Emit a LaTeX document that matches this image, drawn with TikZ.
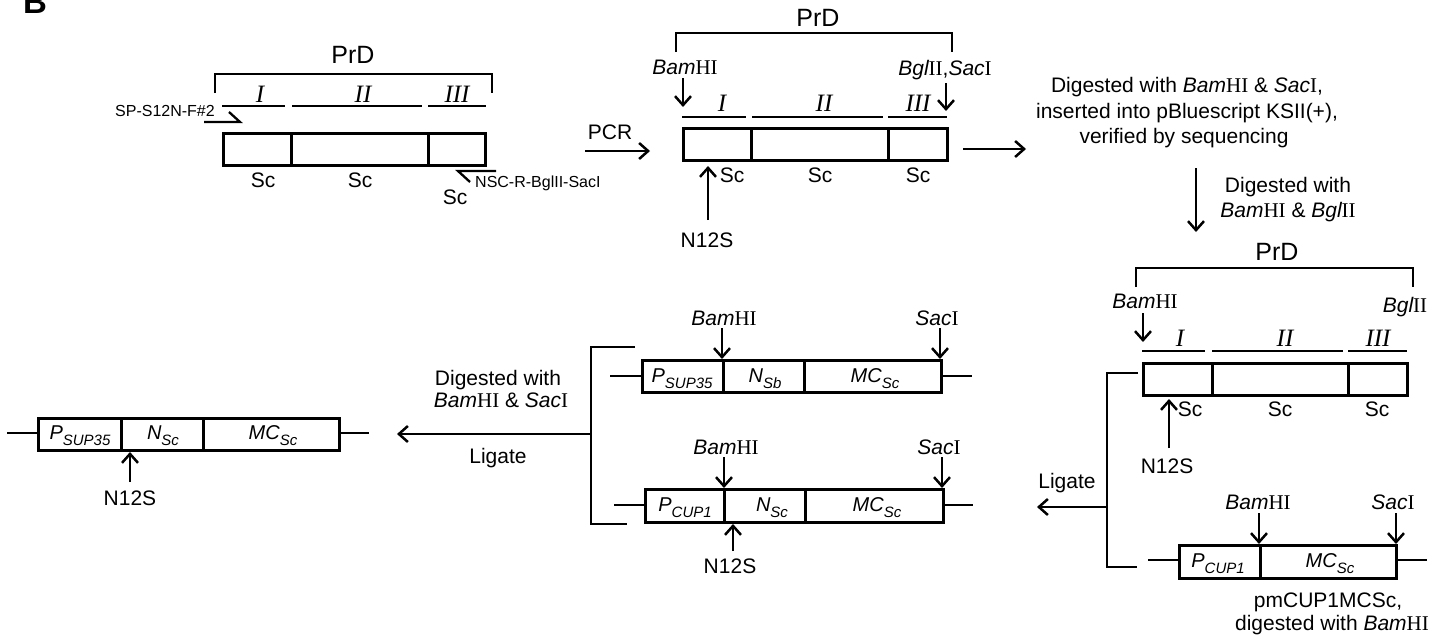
\documentclass[tikz,border=0pt]{standalone}
\usepackage{fontspec}
\setmainfont{Liberation Serif}
\setsansfont{Liberation Sans}
\usetikzlibrary{arrows.meta}
\newcommand{\fs}[1]{\fontsize{#1}{#1}\selectfont}
\newcommand{\enz}[2]{{\sffamily\itshape #1}{\rmfamily\upshape #2}}
\newcommand{\BamHI}{\enz{Bam}{HI}}
\newcommand{\SacI}{\enz{Sac}{I}}
\newcommand{\BglII}{\enz{Bgl}{II}}
\newcommand{\lowsub}[1]{\raisebox{-6pt}{\fs{15}#1}}
\tikzset{
  lbl/.style={inner sep=0, anchor=base, font=\sffamily\fs{21}},
  prd/.style={inner sep=0, anchor=base, font=\sffamily\fs{25}},
  num/.style={inner sep=0, anchor=base, font=\rmfamily\itshape\fs{25}},
  small/.style={inner sep=0, font=\sffamily\fs{16}},
  elt/.style={inner sep=0, anchor=base, font=\sffamily\itshape\fs{20}},
  seg/.style={draw, line width=2.8pt, inner sep=0, anchor=north west},
  ln/.style={line width=2.6pt},
  arr/.style={line width=2.5pt, -{Straight Barb[length=9pt,width=16pt]}},
}
\begin{document}
\begin{tikzpicture}[x=1pt,y=-1pt]
\useasboundingbox (0,0) rectangle (1445,637);

% panel letter
\node[inner sep=0, anchor=base, font=\sffamily\bfseries\fs{33}] (B) at (35,13) {B};

% ---------- Diagram 1 ----------
\node[prd] (prd1) at (353,63) {PrD};
\draw[ln] (215,93) -- (215,74) -- (492,74) -- (492,93);
\node[num] (n1a) at (260,102) {I};
\node[num] (n1b) at (363,102) {II};
\node[num] (n1c) at (457,102) {III};
\draw[ln] (222,106) -- (285,106) (292,106) -- (422,106) (428,106) -- (486,106);
\node[seg, minimum width=68, minimum height=32] (d1a) at (222,132) {};
\node[seg, minimum width=137, minimum height=32] (d1b) at (290,132) {};
\node[seg, minimum width=57, minimum height=32] (d1c) at (427,132) {};
\node[lbl] (sc1a) at (263,187) {Sc};
\node[lbl] (sc1b) at (360,187) {Sc};
\node[lbl] (sc1c) at (455,204) {Sc};
\node[small, anchor=base east] (spf) at (215,116) {SP-S12N-F\#2};
\draw[line width=2.3pt] (204,122) -- (240,122) -- (229,112);
\node[small, anchor=base west] (nscr) at (475,187) {NSC-R-BglII-SacI};
\draw[line width=2.3pt] (496,171) -- (458,171) -- (470,182);

% PCR arrow
\coordinate (pcrS) at (585,151);
\coordinate (pcrE) at (650,151);
\draw[arr] (pcrS) -- (pcrE);
\node[lbl] (pcr) at (610,139) {PCR};

% ---------- Diagram 2 ----------
\node[prd] (prd2) at (818,26) {PrD};
\draw[ln] (676,52) -- (676,33) -- (952,33) -- (952,52);
\node[lbl] (bam2) at (685,74) {\BamHI};
\node[lbl] (bgl2) at (945,75) {\BglII,\SacI};
\coordinate (b2s) at (683,78); \coordinate (b2e) at (683,107);
\draw[arr] (b2s) -- (b2e);
\coordinate (g2s) at (946,83); \coordinate (g2e) at (946,111);
\draw[arr] (g2s) -- (g2e);
\node[num] (n2a) at (722,111) {I};
\node[num] (n2b) at (824,111) {II};
\node[num] (n2c) at (918,111) {III};
\draw[ln] (682,117) -- (746,117) (752,117) -- (883,117) (888,117) -- (947,117);
\node[seg, minimum width=68, minimum height=32] (d2a) at (682,127) {};
\node[seg, minimum width=137, minimum height=32] (d2b) at (750,127) {};
\node[seg, minimum width=59, minimum height=32] (d2c) at (887,127) {};
\node[lbl] (sc2a) at (732,182) {Sc};
\node[lbl] (sc2b) at (820,182) {Sc};
\node[lbl] (sc2c) at (918,182) {Sc};
\node[lbl] (n12s2) at (707,247) {N12S};
\coordinate (m2s) at (708,220); \coordinate (m2e) at (708,166);
\draw[arr] (m2s) -- (m2e);
\coordinate (r2s) at (963,149); \coordinate (r2e) at (1026,149);
\draw[arr] (r2s) -- (r2e);

% ---------- Text block ----------
\node[lbl] (t1) at (1187,92) {Digested with \BamHI{} \& \SacI,};
\node[lbl] (t2) at (1187,118) {inserted into pBluescript KSII(+),};
\node[lbl] (t3) at (1184,143) {verified by sequencing};
\coordinate (dnS) at (1196,168); \coordinate (dnE) at (1196,232);
\draw[arr] (dnS) -- (dnE);
\node[lbl] (t4) at (1288,192) {Digested with};
\node[lbl] (t5) at (1288,217) {\BamHI{} \& \BglII};

% ---------- Diagram 4 ----------
\node[prd] (prd4) at (1277,260) {PrD};
\draw[ln] (1136,287) -- (1136,268) -- (1413,268) -- (1413,287);
\node[lbl] (bam4) at (1145,308) {\BamHI};
\node[lbl] (bgl4) at (1405,312) {\BglII};
\coordinate (b4s) at (1143,313); \coordinate (b4e) at (1143,342);
\draw[arr] (b4s) -- (b4e);
\node[num] (n4a) at (1180,346) {I};
\node[num] (n4b) at (1285,346) {II};
\node[num] (n4c) at (1378,346) {III};
\draw[ln] (1142,351) -- (1205,351) (1212,351) -- (1343,351) (1348,351) -- (1407,351);
\node[seg, minimum width=69, minimum height=32] (d4a) at (1142,362) {};
\node[seg, minimum width=136, minimum height=32] (d4b) at (1211,362) {};
\node[seg, minimum width=59, minimum height=32] (d4c) at (1347,362) {};
\node[lbl] (sc4a) at (1190,416) {Sc};
\node[lbl] (sc4b) at (1280,416) {Sc};
\node[lbl] (sc4c) at (1377,416) {Sc};
\node[lbl] (n12s4) at (1167,473) {N12S};
\coordinate (m4s) at (1169,448); \coordinate (m4e) at (1169,399);
\draw[arr] (m4s) -- (m4e);
% join bracket
\draw[ln] (1138,373) -- (1107,373) -- (1107,567) -- (1137,567);
\coordinate (lg4s) at (1107,507); \coordinate (lg4e) at (1037,507);
\draw[arr] (lg4s) -- (lg4e);
\node[lbl] (lig4) at (1067,488) {Ligate};
% pmCUP1MCSc
\draw[ln] (1148,560) -- (1178,560);
\node[seg, minimum width=81, minimum height=33] (v1a) at (1178,544) {};
\node[seg, minimum width=136, minimum height=33] (v1b) at (1259,544) {};
\draw[ln] (1395,560) -- (1427,560);
\node[elt] (pc1) at (1218,567) {P\lowsub{CUP1}};
\node[elt] (mc1) at (1330,567) {MC\lowsub{Sc}};
\node[lbl] (bamv) at (1258,509) {\BamHI};
\node[lbl] (sacv) at (1393,509) {\SacI};
\coordinate (bvs) at (1259,513); \coordinate (bve) at (1259,544);
\draw[arr] (bvs) -- (bve);
\coordinate (svs) at (1396,513); \coordinate (sve) at (1396,544);
\draw[arr] (svs) -- (sve);
\node[lbl] (pm1) at (1328,607) {pmCUP1MCSc,};
\node[lbl] (pm2) at (1332,630) {digested with \BamHI};

% ---------- Diagram 5 (middle pair) ----------
\draw[ln] (610,376) -- (641,376);
\node[seg, minimum width=81, minimum height=32] (u1) at (641,359) {};
\node[seg, minimum width=81, minimum height=32] (u2) at (722,359) {};
\node[seg, minimum width=137, minimum height=32] (u3) at (803,359) {};
\draw[ln] (940,376) -- (972,376);
\node[elt] (ups) at (682,382) {P\lowsub{SUP35}};
\node[elt] (unb) at (765,382) {N\lowsub{Sb}};
\node[elt] (umc) at (875,382) {MC\lowsub{Sc}};
\node[lbl] (ubam) at (724,325) {\BamHI};
\node[lbl] (usac) at (937,325) {\SacI};
\coordinate (ubs) at (722,328); \coordinate (ube) at (722,359);
\draw[arr] (ubs) -- (ube);
\coordinate (uss) at (940,328); \coordinate (use) at (940,359);
\draw[arr] (uss) -- (use);

\draw[ln] (614,505) -- (644,505);
\node[seg, minimum width=79, minimum height=33] (l1) at (644,488) {};
\node[seg, minimum width=81, minimum height=33] (l2) at (723,488) {};
\node[seg, minimum width=138, minimum height=33] (l3) at (804,488) {};
\draw[ln] (942,505) -- (973,505);
\node[elt] (lpc) at (685,511) {P\lowsub{CUP1}};
\node[elt] (lns) at (772,511) {N\lowsub{Sc}};
\node[elt] (lmc) at (877,511) {MC\lowsub{Sc}};
\node[lbl] (lbam) at (726,454) {\BamHI};
\node[lbl] (lsac) at (939,454) {\SacI};
\coordinate (lbs) at (724,457); \coordinate (lbe) at (724,488);
\draw[arr] (lbs) -- (lbe);
\coordinate (lss) at (942,457); \coordinate (lse) at (942,488);
\draw[arr] (lss) -- (lse);
\node[lbl] (n12s5) at (730,573) {N12S};
\coordinate (m5s) at (733,551); \coordinate (m5e) at (733,524);
\draw[arr] (m5s) -- (m5e);
\draw[ln] (635,347) -- (591,347) -- (591,524) -- (627,524);
\coordinate (lg5s) at (591,434); \coordinate (lg5e) at (397,434);
\draw[arr] (lg5s) -- (lg5e);
\node[lbl] (t6) at (498,385) {Digested with};
\node[lbl] (t7) at (501,407) {\BamHI{} \& \SacI};
\node[lbl] (lig5) at (498,463) {Ligate};

% ---------- Final construct ----------
\draw[ln] (7,433) -- (37,433);
\node[seg, minimum width=83, minimum height=32] (f1) at (37,417) {};
\node[seg, minimum width=82, minimum height=32] (f2) at (120,417) {};
\node[seg, minimum width=136, minimum height=32] (f3) at (202,417) {};
\draw[ln] (338,433) -- (369,433);
\node[elt] (fps) at (80,439) {P\lowsub{SUP35}};
\node[elt] (fns) at (163,439) {N\lowsub{Sc}};
\node[elt] (fmc) at (273,439) {MC\lowsub{Sc}};
\node[lbl] (n12sf) at (130,505) {N12S};
\coordinate (mfs) at (130,482); \coordinate (mfe) at (130,452);
\draw[arr] (mfs) -- (mfe);
\end{tikzpicture}
\end{document}
